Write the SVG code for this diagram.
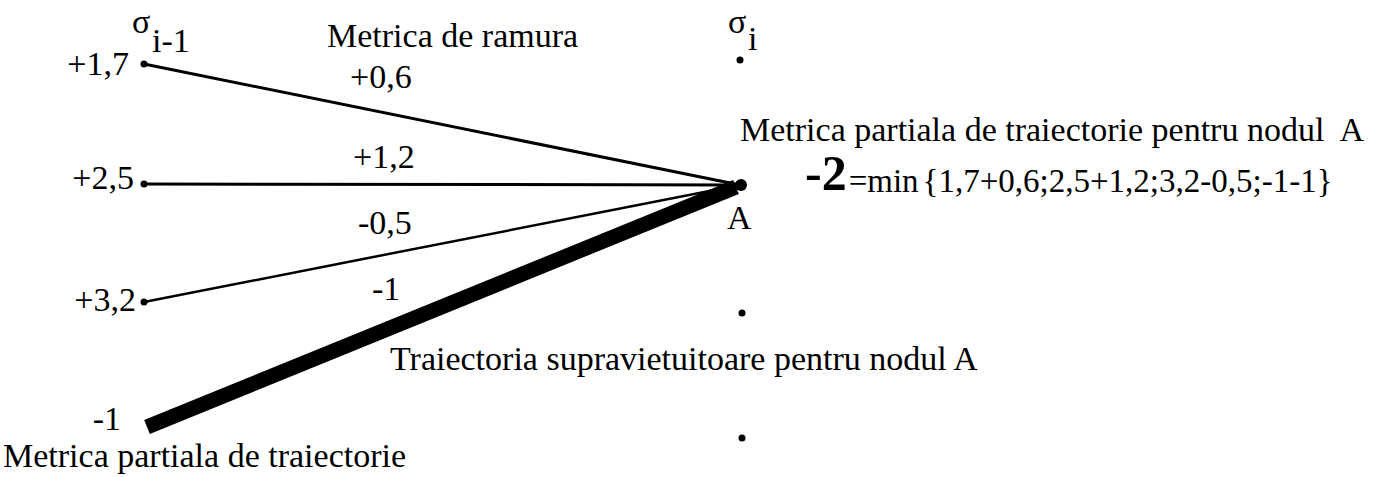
<svg xmlns="http://www.w3.org/2000/svg" width="1387" height="477" viewBox="0 0 1387 477">
<style>
text{font-family:"Liberation Serif","Times New Roman",serif;font-size:34px;fill:#000}
.dot{fill:#000}
.br{stroke:#000;fill:none;stroke-linecap:round}
.end{text-anchor:end}
.sig{font-size:34px}
.big{font-size:50px;font-weight:bold}
.frm{font-size:33px}
</style>
<rect width="1387" height="477" fill="#fff"/>
<g id="connectors">
<line class="br" x1="144" y1="64" x2="740" y2="185" stroke-width="3"/>
<line class="br" x1="144" y1="184" x2="740" y2="185" stroke-width="3"/>
<line class="br" x1="144" y1="302" x2="740" y2="185" stroke-width="2.5"/>
<line x1="147" y1="427" x2="736" y2="187" stroke="#000" stroke-width="15" stroke-linecap="butt"/>
</g>
<g id="col-prev-label"><text class="sig" x="132" y="33">σ</text><text x="152" y="52">i-1</text></g>
<g id="node-p17"><circle class="dot" cx="144" cy="64" r="3.5"/><text class="end" x="129" y="75">+1,7</text></g>
<g id="node-p25"><circle class="dot" cx="144" cy="184" r="3.5"/><text class="end" x="134" y="189">+2,5</text></g>
<g id="node-p32"><circle class="dot" cx="144" cy="302" r="3.5"/><text class="end" x="136" y="311">+3,2</text></g>
<g id="node-pm1"><text class="end" x="121" y="430">-1</text></g>
<g id="col-cur-label"><text class="sig" x="728" y="33">σ</text><text x="748" y="50">i</text></g>
<g id="node-c0"><circle class="dot" cx="740" cy="60" r="3.5"/></g>
<g id="node-A"><circle class="dot" cx="741" cy="185" r="6"/><text x="727" y="229">A</text></g>
<g id="node-c2"><circle class="dot" cx="742" cy="313" r="3.5"/></g>
<g id="node-c3"><circle class="dot" cx="742" cy="438" r="3.5"/></g>
<g id="labels">
<text x="327" y="47">Metrica de ramura</text>
<text x="350" y="88">+0,6</text>
<text x="353" y="168">+1,2</text>
<text x="358" y="234">-0,5</text>
<text x="372" y="300">-1</text>
<text x="740" y="141" xml:space="preserve">Metrica partiala de traiectorie pentru nodul  A</text>
<text x="805" y="190"><tspan class="big">-2</tspan><tspan class="frm" dx="2" y="192">=min</tspan><tspan class="frm" dx="4">{1,7+0,6;2,5+1,2;3,2-0,5;-1-1}</tspan></text>
<text x="390" y="370">Traiectoria supravietuitoare pentru nodul A</text>
<text x="3" y="467">Metrica partiala de traiectorie</text>
</g>
</svg>
